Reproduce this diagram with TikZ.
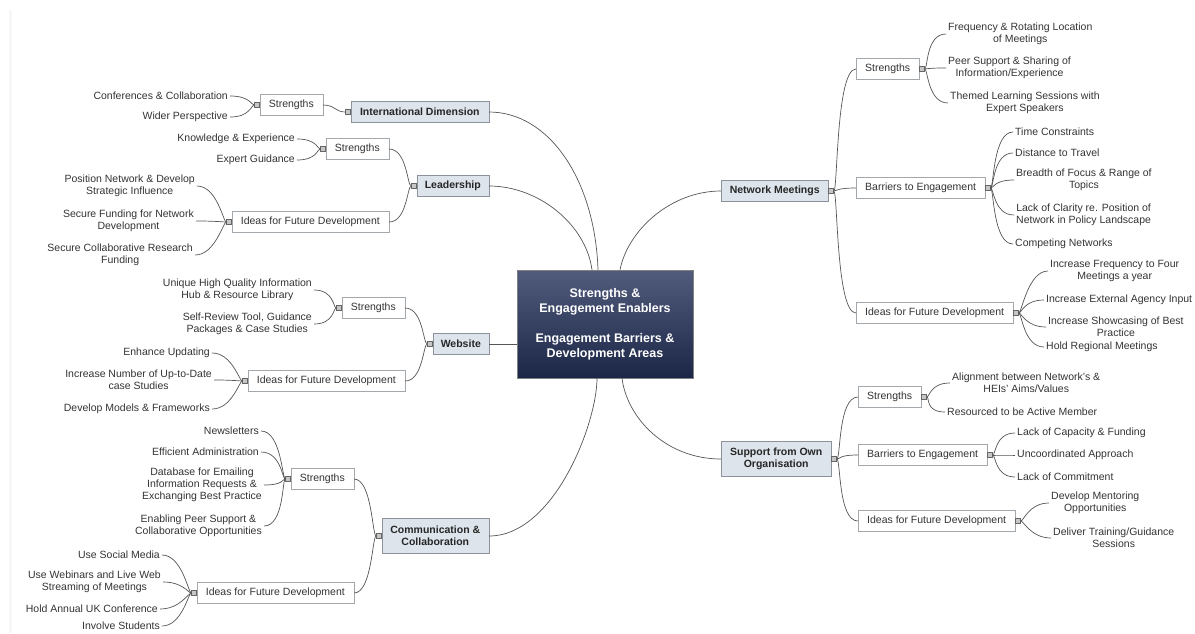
\documentclass[tikz,border=0pt]{standalone}
\usepackage{fontspec}
\setmainfont{Liberation Sans}
\definecolor{boxline}{HTML}{8C9299}
\definecolor{topicfill}{HTML}{DDE4EB}
\definecolor{hubtop}{HTML}{515C7C}
\definecolor{hubbot}{HTML}{1C2647}
\definecolor{ink}{HTML}{333333}
\definecolor{wire}{HTML}{555555}

\begin{document}
\begin{tikzpicture}[x=1pt,y=-1pt,font=\fontsize{10.5}{12}\selectfont,text=ink,
  hub/.style={draw=gray,top color=hubtop,bottom color=hubbot,text=white,align=center,
    font=\fontsize{12.5}{15}\selectfont\bfseries,minimum width=176,minimum height=108},
  topic/.style={draw=boxline,fill=topicfill,text=black!85,align=center,
    font=\fontsize{10.5}{12}\selectfont\bfseries,minimum height=21,inner xsep=6},
  sub/.style={draw=boxline!80,fill=white,minimum height=21,inner xsep=9},
  leaf/.style={align=center,inner sep=2},
  knob/.style={draw=gray!80!black,fill=gray!45,minimum size=5,inner sep=0},
  link/.style={draw=wire,line width=0.7}]
\useasboundingbox (0,0) rectangle (1195,633);
\draw[gray!6,line width=3] (10,10) -- (10,633);

\node[hub] (hub) at (605,324) {Strengths \&\\Engagement Enablers\\[15pt]Engagement Barriers \&\\Development Areas};

% left side
\node[topic,anchor=east,minimum width=138] (id) at (489,112) {International Dimension};
\node[topic,anchor=east,minimum width=72] (lead) at (489,186) {Leadership};
\node[topic,anchor=east,minimum width=56] (web) at (489,344) {Website};
\node[topic,anchor=east,minimum width=107,minimum height=35] (comm) at (489,536) {Communication \&\\Collaboration};

\node[sub,anchor=east] (idst) at (323,105) {Strengths};
\node[sub,anchor=east] (lst) at (389,149) {Strengths};
\node[sub,anchor=east] (ldev) at (389,222) {Ideas for Future Development};
\node[sub,anchor=east] (wst) at (405,308) {Strengths};
\node[sub,anchor=east] (wdev) at (405,381) {Ideas for Future Development};
\node[sub,anchor=east] (cst) at (354,479) {Strengths};
\node[sub,anchor=east] (cdev) at (354,593) {Ideas for Future Development};

\node[leaf,anchor=east] (id1) at (230,96) {Conferences \& Collaboration};
\node[leaf,anchor=east] (id2) at (230,117) {Wider Perspective};
\node[leaf,anchor=east] (ls1) at (297,139) {Knowledge \& Experience};
\node[leaf,anchor=east] (ls2) at (297,160) {Expert Guidance};
\node[leaf,anchor=east] (ld1) at (197,186) {Position Network \& Develop\\Strategic Influence};
\node[leaf,anchor=east] (ld2) at (196,221) {Secure Funding for Network\\Development};
\node[leaf,anchor=east] (ld3) at (195,255) {Secure Collaborative Research\\Funding};
\node[leaf,anchor=east] (ws1) at (314,290) {Unique High Quality Information\\Hub \& Resource Library};
\node[leaf,anchor=east] (ws2) at (314,324) {Self-Review Tool, Guidance\\Packages \& Case Studies};
\node[leaf,anchor=east] (wd1) at (212,353) {Enhance Updating};
\node[leaf,anchor=east] (wd2) at (214,380) {Increase Number of Up-to-Date\\case Studies};
\node[leaf,anchor=east] (wd3) at (212,409) {Develop Models \& Frameworks};
\node[leaf,anchor=east] (cs1) at (261,431) {Newsletters};
\node[leaf,anchor=east] (cs2) at (261,452) {Efficient Administration};
\node[leaf,anchor=east] (cs3) at (264,485) {Database for Emailing\\Information Requests \&\\Exchanging Best Practice};
\node[leaf,anchor=east] (cs4) at (264,526) {Enabling Peer Support \&\\Collaborative Opportunities};
\node[leaf,anchor=east] (cd1) at (162,555) {Use Social Media};
\node[leaf,anchor=east] (cd2) at (163,582) {Use Webinars and Live Web\\Streaming of Meetings};
\node[leaf,anchor=east] (cd3) at (160,609) {Hold Annual UK Conference};
\node[leaf,anchor=east] (cd4) at (162,626) {Involve Students};

\foreach \n in {id,lead,web,comm,idst,lst,ldev,wst,wdev,cst,cdev}
  \node[knob,anchor=east] (k\n) at (\n.west) {};

% right side
\node[topic,anchor=west,minimum width=107] (nm) at (721,191) {Network Meetings};
\node[topic,anchor=west,minimum width=110,minimum height=35] (sup) at (721,459) {Support from Own\\Organisation};

\node[sub,anchor=west] (nst) at (856,69) {Strengths};
\node[sub,anchor=west] (nbar) at (856,188) {Barriers to Engagement};
\node[sub,anchor=west] (ndev) at (856,313) {Ideas for Future Development};
\node[sub,anchor=west] (sst) at (858,397) {Strengths};
\node[sub,anchor=west] (sbar) at (858,455) {Barriers to Engagement};
\node[sub,anchor=west] (sdev) at (858,521) {Ideas for Future Development};

\node[leaf,anchor=west] (ns1) at (946,34) {Frequency \& Rotating Location\\of Meetings};
\node[leaf,anchor=west] (ns2) at (946,68) {Peer Support \& Sharing of\\Information/Experience};
\node[leaf,anchor=west] (ns3) at (948,103) {Themed Learning Sessions with\\Expert Speakers};
\node[leaf,anchor=west] (nb1) at (1013,132) {Time Constraints};
\node[leaf,anchor=west] (nb2) at (1013,153) {Distance to Travel};
\node[leaf,anchor=west] (nb3) at (1014,180) {Breadth of Focus \& Range of\\Topics};
\node[leaf,anchor=west] (nb4) at (1014,215) {Lack of Clarity re. Position of\\Network in Policy Landscape};
\node[leaf,anchor=west] (nb5) at (1013,244) {Competing Networks};
\node[leaf,anchor=west] (nd1) at (1048,271) {Increase Frequency to Four\\Meetings a year};
\node[leaf,anchor=west] (nd2) at (1044,300) {Increase External Agency Input};
\node[leaf,anchor=west] (nd3) at (1046,327) {Increase Showcasing of Best\\Practice};
\node[leaf,anchor=west] (nd4) at (1044,347) {Hold Regional Meetings};
\node[leaf,anchor=west] (ss1) at (950,383) {Alignment between Network's \&\\HEIs' Aims/Values};
\node[leaf,anchor=west] (ss2) at (945,412) {Resourced to be Active Member};
\node[leaf,anchor=west] (sb1) at (1015,433) {Lack of Capacity \& Funding};
\node[leaf,anchor=west] (sb2) at (1015,455) {Uncoordinated Approach};
\node[leaf,anchor=west] (sb3) at (1015,477) {Lack of Commitment};
\node[leaf,anchor=west] (sd1) at (1049,503) {Develop Mentoring\\Opportunities};
\node[leaf,anchor=west] (sd2) at (1051,538) {Deliver Training/Guidance\\Sessions};

\foreach \n in {nm,sup,nst,nbar,ndev,sst,sbar,sdev}
  \node[knob,anchor=west] (k\n) at (\n.east) {};

% hub links
\draw[link] (id.east) .. controls +(60,0) and +(-3,-90) .. ([xshift=-7pt]hub.north);
\draw[link] (lead.east) .. controls +(50,0) and +(-6,-45) .. ([xshift=-13pt]hub.north);
\draw[link] (web.east) -- (web.east -| hub.west);
\draw[link] (comm.east) .. controls +(65,0) and +(0,45) .. ([xshift=-8pt]hub.south);
\draw[link] (nm.west) .. controls +(-50,0) and +(8,-40) .. ([xshift=15pt]hub.north);
\draw[link] (sup.west) .. controls +(-55,0) and +(5,40) .. ([xshift=17pt]hub.south);

% topic to sub
\draw[link] (kid.west) .. controls +(-10,0) and +(12,0) .. (idst.east);
\foreach \t/\a/\b in {lead/lst/ldev,web/wst/wdev,comm/cst/cdev}
  \draw[link] (\a.east) .. controls +(18,0) and +(-4,0) .. (k\t.west)
              (\b.east) .. controls +(18,0) and +(-4,0) .. (k\t.west);
\foreach \t/\l in {nm/{nst,nbar,ndev},sup/{sst,sbar,sdev}}
  \foreach \s in \l
    \draw[link] (k\t.east) .. controls +(4,0) and +(-20,0) .. (\s.west);

% sub to leaves
\foreach \s/\l in {idst/{id1,id2},lst/{ls1,ls2},ldev/{ld1,ld2,ld3},wst/{ws1,ws2},
                   wdev/{wd1,wd2,wd3},cst/{cs1,cs2,cs3,cs4},cdev/{cd1,cd2,cd3,cd4}}
  \foreach \n in \l
    \draw[link] (k\s.west) .. controls +(-3,0) and +(20,0) .. (\n.east);
\foreach \s/\l in {nst/{ns1,ns2,ns3},nbar/{nb1,nb2,nb3,nb4,nb5},ndev/{nd1,nd2,nd3,nd4},
                   sst/{ss1,ss2},sbar/{sb1,sb2,sb3},sdev/{sd1,sd2}}
  \foreach \n in \l
    \draw[link] (k\s.east) .. controls +(3,0) and +(-20,0) .. (\n.west);
\end{tikzpicture}
\end{document}
